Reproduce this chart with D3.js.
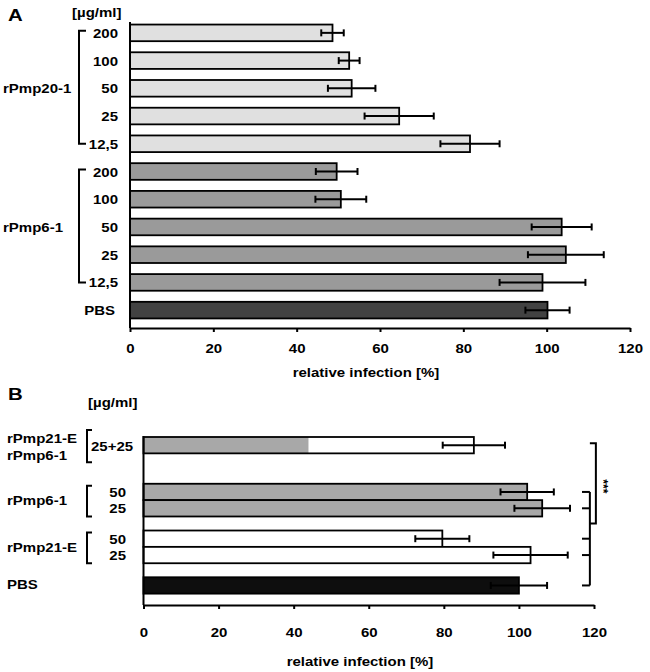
<!DOCTYPE html>
<html>
<head>
<meta charset="utf-8">
<script src="https://cdn.jsdelivr.net/npm/d3@7"></script>
<style>
  body { margin: 0; background: #fff; }
  text { font-family: "Liberation Sans", Arial, sans-serif; font-weight: bold; fill: #000; }
</style>
</head>
<body>
<div id="chart"></div>
<script>
// ---- data ----
const ticksX = [0, 20, 40, 60, 80, 100, 120];

// panel A
const dosesA = ["200", "100", "50", "25", "12,5"];
const rPmp20Values = [48.6, 52.6, 53.2, 64.6, 81.6];
const rPmp20Errors = [2.7, 2.5, 5.7, 8.3, 7.1];
const rPmp6Values = [49.6, 50.6, 103.6, 104.6, 99.0];
const rPmp6Errors = [5.0, 6.1, 7.2, 9.1, 10.3];
const pbsAValue = 100.2;
const pbsAError = 5.3;

// panel B
const groupsB = ["combo", "rPmp6-1", "rPmp21-E", "PBS"];
const dosesB = ["50", "25"];
const comboParts = [44, 44];   // rPmp6-1 part, rPmp21-E part (25+25)
const comboError = 8.3;
const rPmp6BValues = [102.2, 106.2];
const rPmp6BErrors = [7.1, 7.4];
const rPmp21BValues = [79.6, 103.1];
const rPmp21BErrors = [7.2, 9.9];
const pbsBValue = 100;
const pbsBError = 7.5;

const fillA = { "rPmp20-1": "#e0e0e0", "rPmp6-1": "#9a9a9a", "PBS": "#424242" };
const fillB = { "rPmp6-1": "#a8a8a8", "rPmp21-E": "#ffffff", "PBS": "#0e0e0e" };

const svg = d3.select("#chart")
  .append("svg")
  .attr("width", 650)
  .attr("height", 672);

// the figure's type is a little wider than Arial, so stretch it
function label(x, y, s, anchor, size) {
  return svg.append("text")
    .attr("transform", `translate(${x},${y}) scale(1.2,1)`)
    .attr("text-anchor", anchor || "start")
    .style("font-size", (size || 12.5) + "px")
    .text(s);
}

function errBars(g, rows, x, yc) {
  const eb = g.selectAll(".err").data(rows).join("g").attr("class", "err")
    .attr("stroke", "#000").attr("stroke-width", 2);
  eb.append("line")
    .attr("x1", d => x(d.value - d.err)).attr("x2", d => x(d.value + d.err))
    .attr("y1", yc).attr("y2", yc);
  eb.append("line")
    .attr("x1", d => x(d.value - d.err)).attr("x2", d => x(d.value - d.err))
    .attr("y1", d => yc(d) - 3.5).attr("y2", d => yc(d) + 3.5);
  eb.append("line")
    .attr("x1", d => x(d.value + d.err)).attr("x2", d => x(d.value + d.err))
    .attr("y1", d => yc(d) - 3.5).attr("y2", d => yc(d) + 3.5);
}

function bracket(x, y1, y2, w) {
  svg.append("path")
    .attr("d", `M${x + w},${y1}H${x}V${y2}H${x + w}`)
    .attr("fill", "none").attr("stroke", "#000").attr("stroke-width", 2);
}

function styleAxis(g, pad) {
  g.attr("font-family", null).attr("font-size", null);
  g.select(".domain").attr("stroke-width", 2);
  g.selectAll(".tick line").attr("stroke-width", 2);
  g.selectAll(".tick text").style("font-size", "12.5px").attr("transform", "scale(1.2,1)");
}

// ================= panel A =================
const rowsA = [];
dosesA.forEach((d, i) => rowsA.push({ key: "20-" + d, group: "rPmp20-1", dose: d, value: rPmp20Values[i], err: rPmp20Errors[i] }));
dosesA.forEach((d, i) => rowsA.push({ key: "6-" + d, group: "rPmp6-1", dose: d, value: rPmp6Values[i], err: rPmp6Errors[i] }));
rowsA.push({ key: "PBS", group: "PBS", dose: "PBS", value: pbsAValue, err: pbsAError });

const xA = d3.scaleLinear().domain([0, 120]).range([130, 630]);
const yA = d3.scaleBand()
  .domain(rowsA.map(d => d.key))
  .range([19, 324])
  .paddingInner(0.4)
  .paddingOuter(0.2);
const axisYA = 328;
const cA = d => yA(d.key) + yA.bandwidth() / 2;

const gA = svg.append("g");
gA.selectAll("rect").data(rowsA).join("rect")
  .attr("x", xA(0))
  .attr("y", d => yA(d.key))
  .attr("width", d => xA(d.value) - xA(0))
  .attr("height", yA.bandwidth())
  .attr("fill", d => fillA[d.group])
  .attr("stroke", "#000")
  .attr("stroke-width", 1.8);
errBars(gA, rowsA, xA, cA);

svg.append("line")
  .attr("x1", xA(0)).attr("x2", xA(0))
  .attr("y1", yA.range()[0] + 3).attr("y2", axisYA)
  .attr("stroke", "#000").attr("stroke-width", 2);

svg.append("g")
  .attr("transform", `translate(0,${axisYA})`)
  .call(d3.axisBottom(xA).tickValues(ticksX).tickSize(4).tickSizeOuter(0).tickPadding(12))
  .call(styleAxis);

label(366, 377, "relative infection [%]", "middle");

rowsA.forEach(d => {
  label(d.group === "PBS" ? 115 : 118, cA(d) + 5, d.dose, "end");
});
["rPmp20-1", "rPmp6-1"].forEach(gr => {
  const rows = rowsA.filter(d => d.group === gr);
  bracket(79, cA(rows[0]) - 2, cA(rows[rows.length - 1]), 7);
  label(3, cA(rows[2]) + 5, gr);
});

label(8, 21, "A", "start", 17);
label(72, 17, "[µg/ml]");

// ================= panel B =================
const rowsB = [
  { group: "combo", slot: 0, dose: "25+25", parts: comboParts, value: d3.sum(comboParts), err: comboError }
];
dosesB.forEach((d, i) => rowsB.push({ group: "rPmp6-1", slot: i, dose: d, value: rPmp6BValues[i], err: rPmp6BErrors[i] }));
dosesB.forEach((d, i) => rowsB.push({ group: "rPmp21-E", slot: i, dose: d, value: rPmp21BValues[i], err: rPmp21BErrors[i] }));
rowsB.push({ group: "PBS", slot: 0, dose: "", value: pbsBValue, err: pbsBError });

const xB = d3.scaleLinear().domain([0, 120]).range([143.5, 594]);
const yGroupB = d3.scaleBand().domain(groupsB).range([437, 610]).paddingInner(0.3).paddingOuter(0);
const ySlotB = d3.scaleBand().domain([0, 1]).range([0, yGroupB.bandwidth()]);
const axisYB = 605;
const topB = d => yGroupB(d.group) + ySlotB(d.slot);
const cB = d => topB(d) + ySlotB.bandwidth() / 2;

const gB = svg.append("g");
const plain = rowsB.filter(d => d.group !== "combo");
gB.selectAll(".bar").data(plain).join("rect").attr("class", "bar")
  .attr("x", xB(0))
  .attr("y", topB)
  .attr("width", d => xB(d.value) - xB(0))
  .attr("height", ySlotB.bandwidth())
  .attr("fill", d => fillB[d.group])
  .attr("stroke", "#000")
  .attr("stroke-width", 1.8);

const combo = rowsB[0];
const partFills = [fillB["rPmp6-1"], fillB["rPmp21-E"]];
let acc = 0;
combo.parts.forEach((p, i) => {
  gB.append("rect")
    .attr("x", xB(acc)).attr("y", topB(combo))
    .attr("width", xB(acc + p) - xB(acc)).attr("height", ySlotB.bandwidth())
    .attr("fill", partFills[i]);
  acc += p;
});
gB.append("rect")
  .attr("x", xB(0)).attr("y", topB(combo))
  .attr("width", xB(combo.value) - xB(0)).attr("height", ySlotB.bandwidth())
  .attr("fill", "none").attr("stroke", "#000").attr("stroke-width", 1.8);

errBars(gB, rowsB, xB, cB);

svg.append("line")
  .attr("x1", xB(0)).attr("x2", xB(0))
  .attr("y1", yGroupB.range()[0] - 1).attr("y2", axisYB)
  .attr("stroke", "#000").attr("stroke-width", 2);

svg.append("g")
  .attr("transform", `translate(0,${axisYB})`)
  .call(d3.axisBottom(xB).tickValues(ticksX).tickSize(4).tickSizeOuter(0).tickPadding(19))
  .call(styleAxis);

label(360, 666, "relative infection [%]", "middle");

// row labels
label(8, 400, "B", "start", 17);
label(88, 407, "[µg/ml]");

label(7, cB(combo) - 2, "rPmp21-E");
label(7, cB(combo) + 15, "rPmp6-1");
bracket(87, topB(combo) - 7, topB(combo) + ySlotB.bandwidth() + 9, 5);
label(91, cB(combo) + 6, combo.dose);

["rPmp6-1", "rPmp21-E"].forEach(gr => {
  const y0 = yGroupB(gr);
  bracket(87, y0 + 2, y0 + yGroupB.bandwidth(), 5);
  label(7, y0 + yGroupB.bandwidth() / 2 + 5, gr);
  rowsB.filter(d => d.group === gr).forEach(d => label(126, cB(d) + 5, d.dose, "end"));
});
label(7, cB(rowsB[rowsB.length - 1]) + 4, "PBS");

// significance brackets
const tested = rowsB.filter(d => d.group !== "combo");
const xs = xB(118.9), xl = xB(116.8), xbig = xB(120.5);
svg.append("line")
  .attr("x1", xs).attr("x2", xs)
  .attr("y1", cB(tested[0])).attr("y2", cB(tested[tested.length - 1]))
  .attr("stroke", "#000").attr("stroke-width", 2);
svg.selectAll(".sigtick").data(tested).join("line").attr("class", "sigtick")
  .attr("x1", xl).attr("x2", xs)
  .attr("y1", cB).attr("y2", cB)
  .attr("stroke", "#000").attr("stroke-width", 2);
const yJoin = (yGroupB("rPmp6-1") + yGroupB.bandwidth() + yGroupB("rPmp21-E")) / 2;
svg.append("path")
  .attr("d", `M${xs},${cB(combo) - 2}H${xbig}V${yJoin}H${xs}`)
  .attr("fill", "none").attr("stroke", "#000").attr("stroke-width", 2);
svg.append("text")
  .attr("transform", `translate(${xbig + 3},${(cB(combo) + yJoin) / 2 + 2}) rotate(90)`)
  .attr("text-anchor", "middle")
  .style("font-size", "12px")
  .text("***");
</script>
</body>
</html>
